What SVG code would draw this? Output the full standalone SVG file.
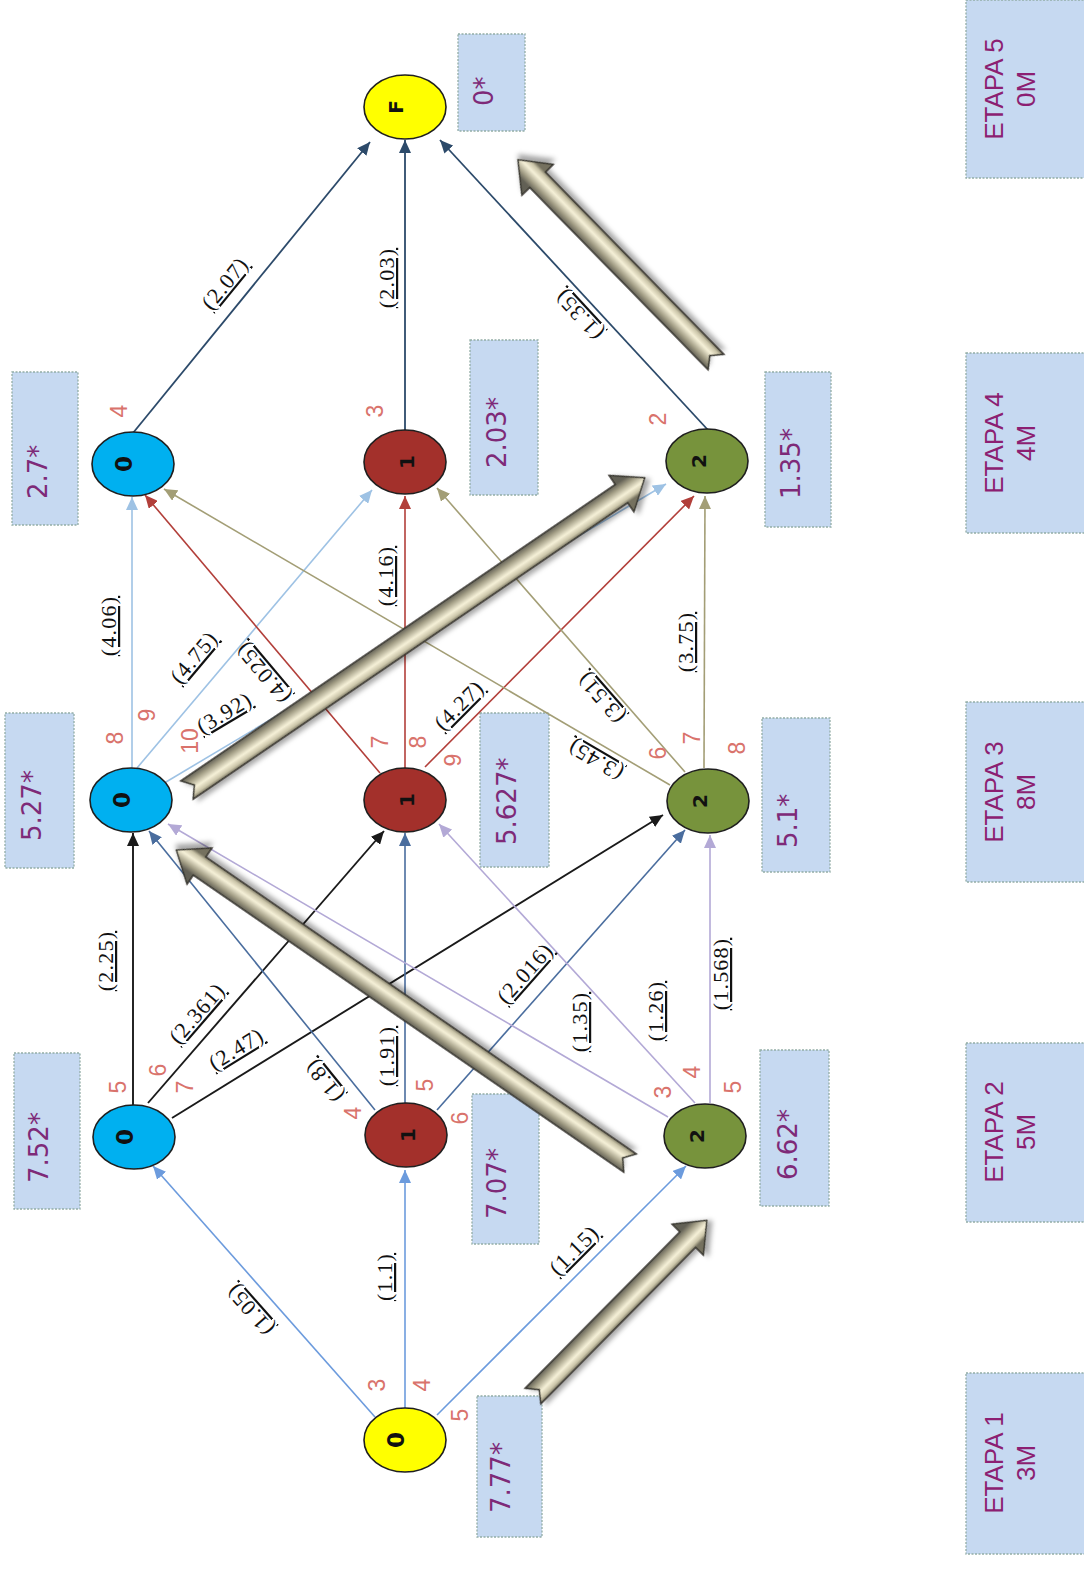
<svg xmlns="http://www.w3.org/2000/svg" width="1084" height="1582" viewBox="0 0 1084 1582">
<style>
.box{fill:#C6D9F1;stroke:#93ADA6;stroke-width:1.3;stroke-dasharray:2 1.5}
.sc{font-family:"DejaVu Sans",Verdana,sans-serif;font-size:26px;fill:#7E2A78}
.et{font-family:"Liberation Sans",Arial,sans-serif;font-size:26px;fill:#8C1F72;text-anchor:middle}
.el{font-family:"Liberation Serif","Times New Roman",serif;font-size:22px;fill:#111;text-anchor:middle;text-decoration:underline;letter-spacing:1.2px}
.pn{font-family:"Liberation Sans",Arial,sans-serif;font-size:23px;fill:#D9736C;text-anchor:middle}
.nl{font-family:"DejaVu Sans",sans-serif;font-weight:bold;font-size:20px;fill:#111;text-anchor:middle}
.nd{stroke:#1f1f1f;stroke-width:1.6}
.e{fill:none;stroke-width:1.6}
.c1{stroke:#6C9BDD;marker-end:url(#m1)}
.c2{stroke:#1a1a1a;stroke-width:1.9;marker-end:url(#m2)}
.c3{stroke:#4A6D9E;marker-end:url(#m3)}
.c4{stroke:#B3A9D6;marker-end:url(#m4)}
.c5{stroke:#9EC2E4;marker-end:url(#m5)}
.c6{stroke:#B23F3A;marker-end:url(#m6)}
.c7{stroke:#A39E76;marker-end:url(#m7)}
.c8{stroke:#2C4A6A;stroke-width:1.8;marker-end:url(#m8)}
.ba{fill:url(#g);stroke:#34332c;stroke-width:1.5;filter:url(#sh)}
</style>
<defs>
<marker id="m1" markerUnits="userSpaceOnUse" markerWidth="14" markerHeight="12" refX="13" refY="6" orient="auto"><path d="M0,0 L13,6 L0,12 z" fill="#6C9BDD"/></marker>
<marker id="m2" markerUnits="userSpaceOnUse" markerWidth="14" markerHeight="12" refX="13" refY="6" orient="auto"><path d="M0,0 L13,6 L0,12 z" fill="#1a1a1a"/></marker>
<marker id="m3" markerUnits="userSpaceOnUse" markerWidth="14" markerHeight="12" refX="13" refY="6" orient="auto"><path d="M0,0 L13,6 L0,12 z" fill="#4A6D9E"/></marker>
<marker id="m4" markerUnits="userSpaceOnUse" markerWidth="14" markerHeight="12" refX="13" refY="6" orient="auto"><path d="M0,0 L13,6 L0,12 z" fill="#B3A9D6"/></marker>
<marker id="m5" markerUnits="userSpaceOnUse" markerWidth="14" markerHeight="12" refX="13" refY="6" orient="auto"><path d="M0,0 L13,6 L0,12 z" fill="#9EC2E4"/></marker>
<marker id="m6" markerUnits="userSpaceOnUse" markerWidth="14" markerHeight="12" refX="13" refY="6" orient="auto"><path d="M0,0 L13,6 L0,12 z" fill="#B23F3A"/></marker>
<marker id="m7" markerUnits="userSpaceOnUse" markerWidth="14" markerHeight="12" refX="13" refY="6" orient="auto"><path d="M0,0 L13,6 L0,12 z" fill="#A39E76"/></marker>
<marker id="m8" markerUnits="userSpaceOnUse" markerWidth="14" markerHeight="12" refX="13" refY="6" orient="auto"><path d="M0,0 L13,6 L0,12 z" fill="#2C4A6A"/></marker>
<linearGradient id="g" gradientUnits="userSpaceOnUse" x1="0" y1="-11" x2="0" y2="11">
<stop offset="0" stop-color="#626055"/><stop offset="0.25" stop-color="#a29d85"/><stop offset="0.6" stop-color="#f6f1d8"/><stop offset="0.85" stop-color="#c9c3a7"/><stop offset="1" stop-color="#75715e"/>
</linearGradient>
<filter id="sh" x="-20%" y="-50%" width="140%" height="200%"><feDropShadow dx="3" dy="4" stdDeviation="2.5" flood-color="#000" flood-opacity="0.35"/></filter>
</defs>
<rect width="1084" height="1582" fill="#fff"/>

<g id="stages">
<g id="etapa5"><rect class="box" x="966" y="0" width="125" height="178"/><g transform="translate(1025,89) rotate(-90)"><text class="et" y="-22.5">ETAPA 5</text><text class="et" y="10">0M</text></g></g>
<g id="etapa4"><rect class="box" x="966" y="353" width="125" height="180"/><g transform="translate(1025,443) rotate(-90)"><text class="et" y="-22.5">ETAPA 4</text><text class="et" y="10">4M</text></g></g>
<g id="etapa3"><rect class="box" x="966" y="702" width="125" height="180"/><g transform="translate(1025,792) rotate(-90)"><text class="et" y="-22.5">ETAPA 3</text><text class="et" y="10">8M</text></g></g>
<g id="etapa2"><rect class="box" x="966" y="1043" width="125" height="179"/><g transform="translate(1025,1132) rotate(-90)"><text class="et" y="-22.5">ETAPA 2</text><text class="et" y="10">5M</text></g></g>
<g id="etapa1"><rect class="box" x="966" y="1373" width="125" height="181"/><g transform="translate(1025,1463) rotate(-90)"><text class="et" y="-22.5">ETAPA 1</text><text class="et" y="10">3M</text></g></g>
</g>

<g id="scores">
<g id="s-F"><rect class="box" x="458" y="34" width="67" height="97"/><text class="sc" transform="translate(493,106) rotate(-90)">0*</text></g>
<g id="s-40"><rect class="box" x="12" y="372" width="66" height="153"/><text class="sc" transform="translate(47,499) rotate(-90)">2.7*</text></g>
<g id="s-41"><rect class="box" x="470" y="340" width="68" height="155"/><text class="sc" transform="translate(506,468) rotate(-90)">2.03*</text></g>
<g id="s-42"><rect class="box" x="765" y="372" width="66" height="155"/><text class="sc" transform="translate(800,499) rotate(-90)">1.35*</text></g>
<g id="s-30"><rect class="box" x="5" y="713" width="69" height="155"/><text class="sc" transform="translate(41,841) rotate(-90)">5.27*</text></g>
<g id="s-31"><rect class="box" x="480" y="713" width="69" height="154"/><text class="sc" transform="translate(516,845) rotate(-90)">5.627*</text></g>
<g id="s-32"><rect class="box" x="762" y="718" width="68" height="154"/><text class="sc" transform="translate(797,848) rotate(-90)">5.1*</text></g>
<g id="s-20"><rect class="box" x="14" y="1053" width="66" height="156"/><text class="sc" transform="translate(48,1183) rotate(-90)">7.52*</text></g>
<g id="s-21"><rect class="box" x="472" y="1094" width="67" height="150"/><text class="sc" transform="translate(506,1219) rotate(-90)">7.07*</text></g>
<g id="s-22"><rect class="box" x="760" y="1050" width="69" height="156"/><text class="sc" transform="translate(797,1180) rotate(-90)">6.62*</text></g>
<g id="s-1"><rect class="box" x="477" y="1396" width="65" height="141"/><text class="sc" transform="translate(510,1513) rotate(-90)">7.77*</text></g>
</g>

<g id="connectors">
<line class="e c1" x1="375" y1="1417" x2="153" y2="1166"/>
<line class="e c1" x1="405" y1="1408" x2="405" y2="1170"/>
<line class="e c1" x1="437" y1="1415" x2="686" y2="1166"/>
<line class="e c2" x1="133" y1="1105" x2="133" y2="833"/>
<line class="e c2" x1="148" y1="1103" x2="384" y2="831"/>
<line class="e c2" x1="172" y1="1118" x2="663" y2="815"/>
<line class="e c3" x1="375" y1="1110" x2="149" y2="831"/>
<line class="e c3" x1="405" y1="1103" x2="405" y2="833"/>
<line class="e c3" x1="437" y1="1110" x2="685" y2="830"/>
<line class="e c4" x1="668" y1="1117" x2="168" y2="824"/>
<line class="e c4" x1="695" y1="1103" x2="439" y2="824"/>
<line class="e c4" x1="710" y1="1103" x2="710" y2="835"/>
<line class="e c5" x1="132" y1="768" x2="132" y2="497"/>
<line class="e c5" x1="137" y1="768" x2="372" y2="490"/>
<line class="e c5" x1="166" y1="782" x2="666" y2="484"/>
<line class="e c6" x1="380" y1="773" x2="145" y2="495"/>
<line class="e c6" x1="405" y1="768" x2="405" y2="496"/>
<line class="e c6" x1="425" y1="767" x2="694" y2="496"/>
<line class="e c7" x1="670" y1="785" x2="164" y2="489"/>
<line class="e c7" x1="685" y1="772" x2="437" y2="488"/>
<line class="e c7" x1="704" y1="768" x2="705" y2="496"/>
<line class="e c8" x1="133" y1="433" x2="370" y2="142"/>
<line class="e c8" x1="405" y1="431" x2="405" y2="140"/>
<line class="e c8" x1="708" y1="430" x2="440" y2="140"/>
</g>

<g id="edge-labels">
<text class="el" transform="translate(251,1309) rotate(-131.5)" y="6">(1.05)</text>
<text class="el" transform="translate(386,1277) rotate(-90)" y="6">(1.1)</text>
<text class="el" transform="translate(575,1251) rotate(-45)" y="6">(1.15)</text>
<text class="el" transform="translate(107,961) rotate(-90)" y="6">(2.25)</text>
<text class="el" transform="translate(198,1014) rotate(-49.1)" y="6">(2.361)</text>
<text class="el" transform="translate(237,1050) rotate(-31.7)" y="6">(2.47)</text>
<text class="el" transform="translate(325,1080) rotate(-129)" y="6">(1.8)</text>
<text class="el" transform="translate(388,1056) rotate(-90)" y="6">(1.91)</text>
<text class="el" transform="translate(526,974) rotate(-48.5)" y="6">(2.016)</text>
<text class="el" transform="translate(581,1022) rotate(-90)" y="6">(1.35)</text>
<text class="el" transform="translate(657,1011) rotate(-90)" y="6">(1.26)</text>
<text class="el" transform="translate(722,974) rotate(-90)" y="6">(1.568)</text>
<text class="el" transform="translate(110,626) rotate(-90)" y="6">(4.06)</text>
<text class="el" transform="translate(195,658) rotate(-49.8)" y="6">(4.75)</text>
<text class="el" transform="translate(225,714) rotate(-30.8)" y="6">(3.92)</text>
<text class="el" transform="translate(264,672) rotate(-130.2)" y="6">(4.025)</text>
<text class="el" transform="translate(387,576) rotate(-90)" y="6">(4.16)</text>
<text class="el" transform="translate(460,706) rotate(-45.1)" y="6">(4.27)</text>
<text class="el" transform="translate(596,759) rotate(-149.7)" y="6">(3.45)</text>
<text class="el" transform="translate(602,697) rotate(-131.1)" y="6">(3.51)</text>
<text class="el" transform="translate(687,642) rotate(-90)" y="6">(3.75)</text>
<text class="el" transform="translate(226,284) rotate(-50.8)" y="6">(2.07)</text>
<text class="el" transform="translate(388,278) rotate(-90)" y="6">(2.03)</text>
<text class="el" transform="translate(580,314) rotate(-132.7)" y="6">(1.35)</text>
</g>

<g id="port-numbers">
<text class="pn" transform="translate(377,1385) rotate(-90)" y="8">3</text>
<text class="pn" transform="translate(422,1385) rotate(-90)" y="8">4</text>
<text class="pn" transform="translate(460,1415) rotate(-90)" y="8">5</text>
<text class="pn" transform="translate(118,1087) rotate(-90)" y="8">5</text>
<text class="pn" transform="translate(158,1070) rotate(-90)" y="8">6</text>
<text class="pn" transform="translate(185,1087) rotate(-90)" y="8">7</text>
<text class="pn" transform="translate(353,1113) rotate(-90)" y="8">4</text>
<text class="pn" transform="translate(425,1085) rotate(-90)" y="8">5</text>
<text class="pn" transform="translate(460,1118) rotate(-90)" y="8">6</text>
<text class="pn" transform="translate(663,1092) rotate(-90)" y="8">3</text>
<text class="pn" transform="translate(692,1072) rotate(-90)" y="8">4</text>
<text class="pn" transform="translate(733,1087) rotate(-90)" y="8">5</text>
<text class="pn" transform="translate(115,738) rotate(-90)" y="8">8</text>
<text class="pn" transform="translate(147,715) rotate(-90)" y="8">9</text>
<text class="pn" transform="translate(190,741) rotate(-90)" y="8">10</text>
<text class="pn" transform="translate(380,742) rotate(-90)" y="8">7</text>
<text class="pn" transform="translate(418,742) rotate(-90)" y="8">8</text>
<text class="pn" transform="translate(453,760) rotate(-90)" y="8">9</text>
<text class="pn" transform="translate(658,753) rotate(-90)" y="8">6</text>
<text class="pn" transform="translate(692,738) rotate(-90)" y="8">7</text>
<text class="pn" transform="translate(737,748) rotate(-90)" y="8">8</text>
<text class="pn" transform="translate(119,411) rotate(-90)" y="8">4</text>
<text class="pn" transform="translate(375,411) rotate(-90)" y="8">3</text>
<text class="pn" transform="translate(658,419) rotate(-90)" y="8">2</text>
</g>

<g id="nodes">
<g id="nF"><ellipse class="nd" cx="405" cy="107" rx="41" ry="32" fill="#FFFF00"/><text class="nl" transform="translate(403,107) rotate(-90)">F</text></g>
<g id="n40"><ellipse class="nd" cx="133" cy="464" rx="41" ry="32" fill="#00B0F0"/><text class="nl" style="font-size:23px" transform="translate(132,464) rotate(-90)">0</text></g>
<g id="n41"><ellipse class="nd" cx="405" cy="462" rx="41" ry="32" fill="#A3302B"/><text class="nl" transform="translate(414,462) rotate(-90)">1</text></g>
<g id="n42"><ellipse class="nd" cx="707" cy="461" rx="41" ry="32" fill="#77933C"/><text class="nl" transform="translate(706,461) rotate(-90)">2</text></g>
<g id="n30"><ellipse class="nd" cx="131" cy="800" rx="41" ry="32" fill="#00B0F0"/><text class="nl" style="font-size:23px" transform="translate(130,800) rotate(-90)">0</text></g>
<g id="n31"><ellipse class="nd" cx="405" cy="800" rx="41" ry="32" fill="#A3302B"/><text class="nl" transform="translate(414,800) rotate(-90)">1</text></g>
<g id="n32"><ellipse class="nd" cx="708" cy="801" rx="41" ry="32" fill="#77933C"/><text class="nl" transform="translate(707,801) rotate(-90)">2</text></g>
<g id="n20"><ellipse class="nd" cx="134" cy="1137" rx="41" ry="32" fill="#00B0F0"/><text class="nl" style="font-size:23px" transform="translate(133,1137) rotate(-90)">0</text></g>
<g id="n21"><ellipse class="nd" cx="406" cy="1135" rx="41" ry="32" fill="#A3302B"/><text class="nl" transform="translate(415,1135) rotate(-90)">1</text></g>
<g id="n22"><ellipse class="nd" cx="705" cy="1136" rx="41" ry="32" fill="#77933C"/><text class="nl" transform="translate(704,1136) rotate(-90)">2</text></g>
<g id="n1"><ellipse class="nd" cx="405" cy="1440" rx="41" ry="32" fill="#FFFF00"/><text class="nl" style="font-size:23px" transform="translate(404,1440) rotate(-90)">0</text></g>
</g>

<g id="path-arrows">
<polygon class="ba" transform="translate(533,1396) rotate(-45.3)" points="0,-11 220,-11 220,-22 247,0 220,22 220,11 0,11 9,0"/>
<polygon class="ba" transform="translate(630,1163) rotate(-145.4)" points="0,-11 523,-11 523,-22 551,0 523,22 523,11 0,11 9,0"/>
<polygon class="ba" transform="translate(187,790) rotate(-34.3)" points="0,-11 526,-11 526,-22 554,0 526,22 526,11 0,11 9,0"/>
<polygon class="ba" transform="translate(716,362) rotate(-134.4)" points="0,-11 255,-11 255,-22 283,0 255,22 255,11 0,11 9,0"/>
</g>
</svg>
